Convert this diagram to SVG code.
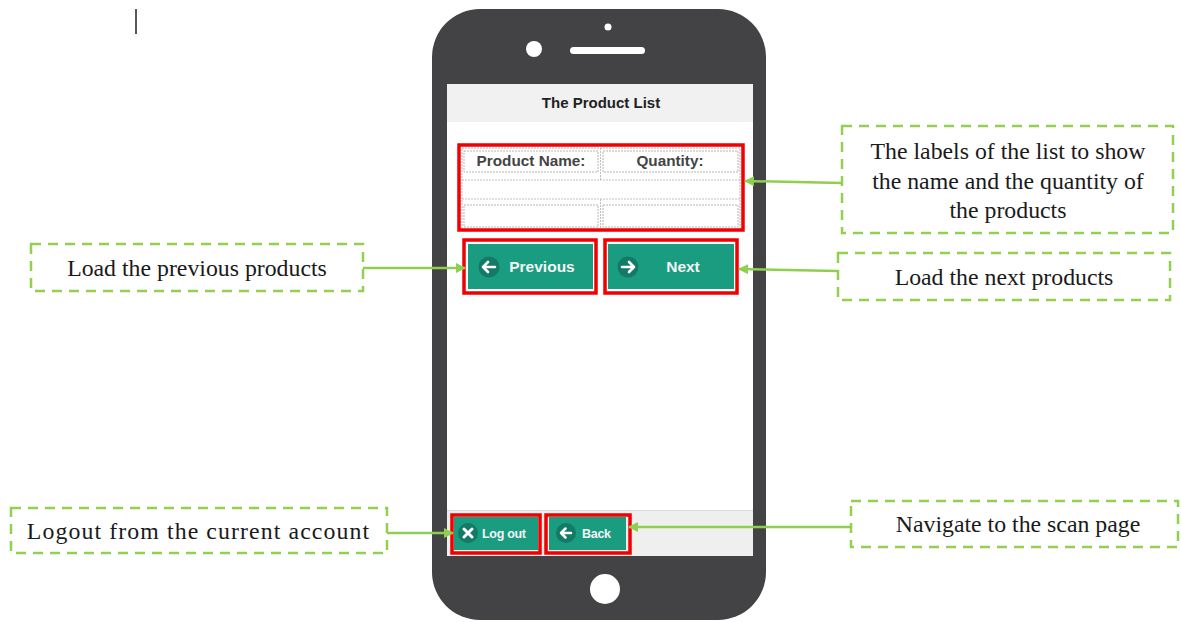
<svg xmlns="http://www.w3.org/2000/svg" width="1181" height="622" viewBox="0 0 1181 622">
<defs>
<marker id="ah" viewBox="0 0 10 10" refX="9" refY="5" markerWidth="10" markerHeight="10" markerUnits="userSpaceOnUse" orient="auto">
<path d="M0,0 L10,5 L0,10 z" fill="#8fcf4f"/>
</marker>
<style>
.callout{fill:#fff;stroke:#92d050;stroke-width:2.5;stroke-dasharray:10 7}
.ct{font-family:"Liberation Serif","Times New Roman",serif;font-size:23.8px;fill:#1a1a1a;text-anchor:middle}
.conn{stroke:#8fcf4f;stroke-width:2.5;fill:none;marker-end:url(#ah)}
.red{fill:none;stroke:#f00000;stroke-width:3.5}
.btn{fill:#1a9c81}
.ic{fill:#127a66}
.bt{font-family:"Liberation Sans",Arial,sans-serif;font-weight:bold;fill:#f4f4f4}
.cell{fill:#fff;stroke:#b5b5b5;stroke-width:1;stroke-dasharray:2 1}
.lbl{font-family:"Liberation Sans",Arial,sans-serif;font-weight:bold;font-size:15.3px;fill:#444;text-anchor:middle}
</style>
</defs>
<rect width="1181" height="622" fill="#fff"/>
<line x1="136" y1="9" x2="136" y2="34" stroke="#222" stroke-width="1.5"/>

<g id="phone">
<rect x="432" y="9" width="334" height="611" rx="48" ry="48" fill="#434345"/>
<circle cx="534" cy="49" r="8" fill="#fff"/>
<circle cx="608" cy="27" r="3.5" fill="#fff"/>
<rect x="570" y="47" width="75" height="7" rx="3.5" fill="#fff"/>
<circle cx="605" cy="589" r="15" fill="#fff"/>
<rect x="447" y="84" width="306" height="472" fill="#fff"/>
<rect x="447" y="84" width="306" height="38" fill="#f1f1f1"/>
<text x="601" y="108" font-family="Liberation Sans,Arial,sans-serif" font-weight="bold" font-size="15" fill="#222" text-anchor="middle">The Product List</text>
<rect x="447" y="510" width="306" height="46" fill="#efefef"/>
<line x1="447" y1="510.5" x2="753" y2="510.5" stroke="#dcdcdc" stroke-width="1"/>
</g>

<g id="product-table">
<rect x="462" y="148" width="278" height="82" class="cell"/>
<line x1="462" y1="180" x2="740" y2="180" stroke="#c0c0c0" stroke-dasharray="2 1"/>
<line x1="462" y1="199" x2="740" y2="199" stroke="#c0c0c0" stroke-dasharray="2 1"/>
<line x1="600.5" y1="148" x2="600.5" y2="180" stroke="#c0c0c0" stroke-dasharray="2 1"/>
<line x1="600.5" y1="199" x2="600.5" y2="230" stroke="#c0c0c0" stroke-dasharray="2 1"/>
<rect x="464" y="151" width="134" height="21" class="cell"/>
<rect x="603" y="151" width="135" height="21" class="cell"/>
<rect x="464" y="205" width="134" height="22" class="cell"/>
<rect x="603" y="205" width="135" height="22" class="cell"/>
<text x="531" y="166" class="lbl">Product Name:</text>
<text x="670" y="166" class="lbl">Quantity:</text>
<rect x="459" y="145" width="284" height="85" class="red"/>
</g>

<g id="btn-previous">
<rect x="468" y="244" width="125" height="45" class="btn"/>
<circle cx="489" cy="267" r="10.5" class="ic"/>
<path d="M483,267 L495,267 M488,262 L483,267 L488,272" stroke="#fff" stroke-width="2.6" fill="none" stroke-linecap="round" stroke-linejoin="round"/>
<text x="542" y="272" class="bt" font-size="15.5" text-anchor="middle">Previous</text>
<rect x="464" y="240" width="132" height="53" class="red"/>
</g>

<g id="btn-next">
<rect x="608" y="244" width="126" height="45" class="btn"/>
<circle cx="628" cy="267" r="10.5" class="ic"/>
<path d="M622,267 L634,267 M629,262 L634,267 L629,272" stroke="#fff" stroke-width="2.6" fill="none" stroke-linecap="round" stroke-linejoin="round"/>
<text x="683" y="272" class="bt" font-size="15.5" text-anchor="middle">Next</text>
<rect x="605" y="240" width="132" height="53" class="red"/>
</g>

<g id="btn-logout">
<rect x="454" y="517" width="84" height="33" class="btn"/>
<circle cx="468" cy="533" r="10" class="ic"/>
<path d="M464,529 L472,537 M472,529 L464,537" stroke="#fff" stroke-width="3" stroke-linecap="round"/>
<text x="482" y="538" class="bt" font-size="12.5" letter-spacing="-0.3">Log out</text>
<rect x="452" y="515" width="88" height="38" class="red"/>
</g>

<g id="btn-back">
<rect x="549" y="517" width="77" height="33" class="btn"/>
<circle cx="566" cy="533" r="10" class="ic"/>
<path d="M561,533 L571,533 M565.5,528.5 L561,533 L565.5,537.5" stroke="#fff" stroke-width="2.5" fill="none" stroke-linecap="round" stroke-linejoin="round"/>
<text x="582" y="538" class="bt" font-size="12.5" letter-spacing="-0.3">Back</text>
<rect x="546" y="515" width="84" height="38" class="red"/>
</g>

<g id="note-labels">
<rect x="842" y="126" width="331" height="107" class="callout"/>
<text x="1008" y="159" class="ct">The labels of the list to show</text>
<text x="1008" y="189" class="ct">the name and the quantity of</text>
<text x="1008" y="218" class="ct">the products</text>
</g>

<g id="note-previous">
<rect x="31" y="244" width="332" height="47" class="callout"/>
<text x="197" y="276" class="ct">Load the previous products</text>
</g>

<g id="note-next">
<rect x="838" y="253" width="332" height="47" class="callout"/>
<text x="1004" y="285" class="ct">Load the next products</text>
</g>

<g id="note-logout">
<rect x="11" y="508" width="376" height="45" class="callout"/>
<text x="198.5" y="539" class="ct" letter-spacing="1.1">Logout from the current account</text>
</g>

<g id="note-back">
<rect x="851" y="501" width="327" height="46" class="callout"/>
<text x="1018" y="532" class="ct" font-size="22.8">Navigate to the scan page</text>
</g>

<g id="connectors">
<path d="M842,183 L745,181" class="conn"/>
<path d="M363,268 L465,268" class="conn"/>
<path d="M838,271 L739,269" class="conn"/>
<path d="M387,533 L453,533" class="conn"/>
<path d="M851,527 L629,527" class="conn"/>
</g>
</svg>
